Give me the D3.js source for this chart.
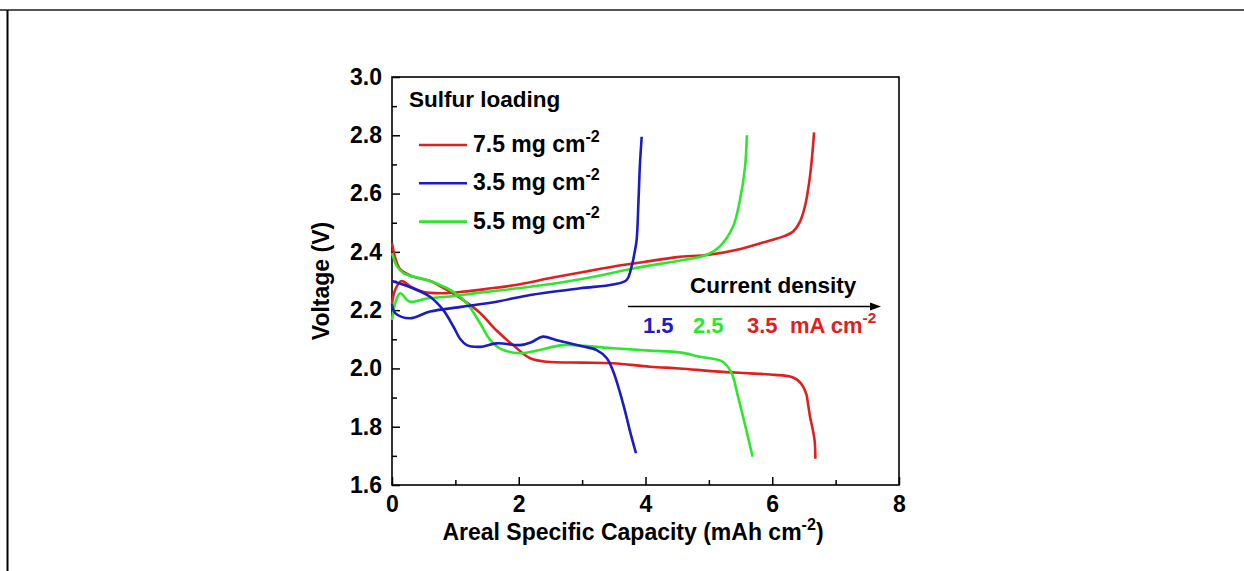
<!DOCTYPE html>
<html><head><meta charset="utf-8">
<script src="https://cdn.jsdelivr.net/npm/d3@7"></script>
<style>body{margin:0;background:#fff}text{font-family:"Liberation Sans",Arial,sans-serif;font-weight:bold}</style>
</head><body>
<svg id="c" width="1244" height="571"></svg>
<script>
// ---- data: [capacity (mAh cm-2), voltage (V)] ----
const dis75 = [[0,2.43],[0.05,2.38],[0.13,2.34],[0.33,2.315],[0.6,2.30],[0.86,2.27],[1.12,2.235],[1.39,2.19],[1.65,2.13],[1.91,2.08],[2.18,2.035],[2.44,2.023],[3.0,2.02],[3.49,2.018],[4.07,2.006],[4.54,2.0],[5.1,1.99],[5.65,1.983],[6.05,1.978],[6.28,1.972],[6.40,1.96],[6.48,1.94],[6.54,1.91],[6.57,1.87],[6.60,1.83],[6.64,1.79],[6.67,1.75],[6.68,1.69]];
const chg75 = [[0,2.22],[0.05,2.27],[0.15,2.30],[0.3,2.28],[0.5,2.262],[0.8,2.258],[1.1,2.263],[1.5,2.273],[2.0,2.288],[2.5,2.31],[3.0,2.33],[3.5,2.35],[4.0,2.366],[4.5,2.382],[5.0,2.39],[5.5,2.41],[5.9,2.435],[6.2,2.455],[6.33,2.47],[6.43,2.50],[6.52,2.56],[6.59,2.65],[6.63,2.73],[6.66,2.81]];
const dis35 = [[0,2.30],[0.33,2.275],[0.6,2.246],[0.81,2.20],[0.97,2.143],[1.08,2.10],[1.18,2.08],[1.39,2.074],[1.65,2.086],[2.02,2.08],[2.2,2.09],[2.38,2.109],[2.6,2.097],[3.0,2.076],[3.23,2.063],[3.39,2.035],[3.49,1.99],[3.6,1.915],[3.7,1.834],[3.75,1.789],[3.81,1.74],[3.85,1.709]];
const chg35 = [[0,2.22],[0.05,2.19],[0.28,2.172],[0.6,2.195],[1.12,2.212],[1.65,2.229],[2.18,2.252],[2.97,2.275],[3.49,2.288],[3.70,2.303],[3.78,2.349],[3.83,2.40],[3.86,2.44],[3.89,2.578],[3.91,2.69],[3.94,2.795]];
const dis55 = [[0,2.396],[0.08,2.35],[0.18,2.327],[0.6,2.30],[0.97,2.263],[1.18,2.224],[1.39,2.155],[1.55,2.097],[1.70,2.069],[2.02,2.052],[2.33,2.063],[2.70,2.08],[3.49,2.069],[4.07,2.061],[4.54,2.055],[4.86,2.04],[5.22,2.023],[5.36,1.983],[5.46,1.903],[5.59,1.789],[5.69,1.697]];
const chg55 = [[0,2.166],[0.06,2.23],[0.13,2.258],[0.28,2.229],[0.55,2.24],[0.86,2.246],[1.39,2.26],[2.18,2.28],[2.76,2.298],[3.3,2.32],[3.81,2.343],[4.59,2.372],[4.96,2.389],[5.17,2.418],[5.38,2.486],[5.49,2.578],[5.57,2.69],[5.60,2.80]];
const loadings = ["7.5","3.5","5.5"];
const rates = ["1.5","2.5","3.5"];
const xTicks = [0,2,4,6,8];
const yTicks = [1.6,1.8,2.0,2.2,2.4,2.6,2.8,3.0];

const RED="#dd2020", BLUE="#1c1cc0", GREEN="#2ee62e";
const svg = d3.select("#c");
// outer frame
svg.append("line").attr("x1",0).attr("x2",1244).attr("y1",10).attr("y2",10).attr("stroke","#555").attr("stroke-width",2);
svg.append("line").attr("x1",7.5).attr("x2",7.5).attr("y1",10).attr("y2",571).attr("stroke","#000").attr("stroke-width",2);

const L=392,R=899,T=77,B=485;
const x = d3.scaleLinear().domain([0,8]).range([L,R]);
const y = d3.scaleLinear().domain([1.6,3.0]).range([B,T]);

// minor ticks
const g = svg.append("g");
g.append("g").attr("transform",`translate(0,${B})`)
 .call(d3.axisBottom(x).tickValues([1,3,5,7]).tickSize(-5).tickFormat(""))
 .call(a=>a.select(".domain").remove());
g.append("g").attr("transform",`translate(${L},0)`)
 .call(d3.axisLeft(y).tickValues([1.7,1.9,2.1,2.3,2.5,2.7,2.9]).tickSize(-5).tickFormat(""))
 .call(a=>a.select(".domain").remove());
const ax = g.append("g").attr("transform",`translate(0,${B})`)
 .call(d3.axisBottom(x).tickValues(xTicks).tickSize(-8).tickPadding(11).tickFormat(d3.format("d")));
const ay = g.append("g").attr("transform",`translate(${L},0)`)
 .call(d3.axisLeft(y).tickValues(yTicks).tickSize(-8).tickPadding(10).tickFormat(d3.format(".1f")));
[ax,ay].forEach(a=>{a.select(".domain").remove();a.selectAll("text").attr("font-size",23).attr("fill","#000").style("font-family","Liberation Sans, Arial").style("font-weight","bold");});
g.selectAll(".tick line").attr("stroke","#000").attr("stroke-width",1.5);
svg.append("rect").attr("x",L).attr("y",T).attr("width",R-L).attr("height",B-T).attr("fill","none").attr("stroke","#000").attr("stroke-width",1.6);

// curves
const line = d3.line().x(d=>x(d[0])).y(d=>y(d[1])).curve(d3.curveCatmullRom.alpha(0.5));
const series = [[dis75,RED],[chg75,RED],[dis55,GREEN],[chg55,GREEN],[dis35,BLUE],[chg35,BLUE]];
svg.append("g").selectAll("path").data(series).join("path")
 .attr("d",d=>line(d[0])).attr("fill","none").attr("stroke",d=>d[1]).attr("stroke-width",2.6).attr("stroke-linejoin","round");

// axis titles
function sup(t,parts,size){
  parts.forEach(p=>{
    const s=t.append("tspan").text(p[0]);
    if(p[1]==="sup"){s.attr("font-size",size*0.7).attr("dy",-size*0.45);}
    else if(p[1]==="down"){s.attr("dy",size*0.45);}
  });
  return t;
}
sup(svg.append("text").attr("x",633).attr("y",540).attr("text-anchor","middle").attr("font-size",23),
  [["Areal Specific Capacity (mAh cm"],["-2","sup"],[")","down"]],23);
svg.append("text").attr("transform",`translate(329,${(T+B)/2}) rotate(-90)`).attr("text-anchor","middle").attr("font-size",23).text("Voltage (V)");

// legend
svg.append("text").attr("x",409).attr("y",107).attr("font-size",22.5).text("Sulfur loading");
const legColors=[RED,BLUE,GREEN];
loadings.forEach((l,i)=>{
  const ly = 145 + i*38.3;
  svg.append("line").attr("x1",419).attr("x2",467).attr("y1",ly).attr("y2",ly).attr("stroke",legColors[i]).attr("stroke-width",2.6);
  sup(svg.append("text").attr("x",473).attr("y",ly+7).attr("font-size",23),[[l+" mg cm"],["-2","sup"]],23);
});

// current density annotation
svg.append("text").attr("x",690).attr("y",293).attr("font-size",22.5).text("Current density");
svg.append("line").attr("x1",628).attr("x2",872).attr("y1",306.5).attr("y2",306.5).attr("stroke","#000").attr("stroke-width",1.5);
svg.append("path").attr("d","M870,302.5 L881,306.5 L870,310.5 Z").attr("fill","#000");
const rateColors=[BLUE,GREEN,RED];
const rateX=[643,693,747];
rates.forEach((r,i)=>{
  svg.append("text").attr("x",rateX[i]).attr("y",333).attr("font-size",22).attr("fill",rateColors[i]).text(r);
});
sup(svg.append("text").attr("x",790).attr("y",333).attr("font-size",22).attr("fill",RED),[["mA cm"],["-2","sup"]],22);
</script>
</body></html>
